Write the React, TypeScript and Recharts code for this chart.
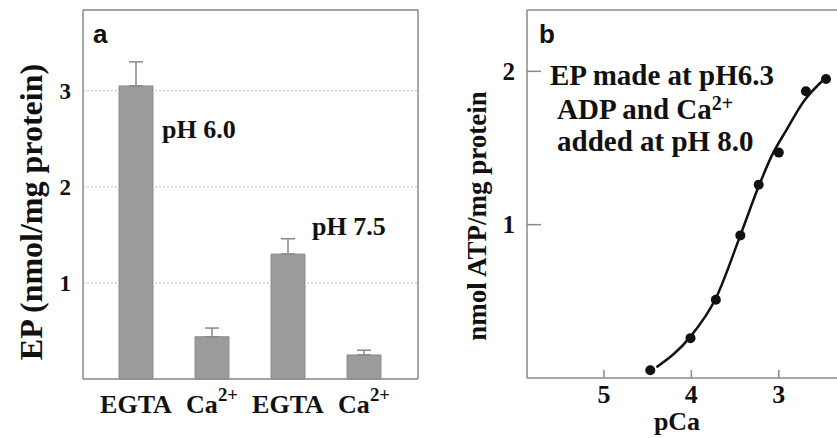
import { Bar, BarChart, CartesianGrid, ComposedChart, ErrorBar, Line, Scatter, XAxis, YAxis } from 'recharts';

// panel a: EP levels
const categories = ['EGTA', 'Ca2+', 'EGTA', 'Ca2+'];
const epValues = [3.05, 0.44, 1.3, 0.25];
const epErrors = [0.25, 0.09, 0.16, 0.05];
const epTicks = [1, 2, 3];

// panel b: ATP formed vs pCa
const pcaPoints = [4.47, 4.01, 3.72, 3.44, 3.23, 3.0, 2.69, 2.46];
const atpPoints = [0.05, 0.26, 0.51, 0.93, 1.26, 1.47, 1.87, 1.95];
const fitPca = [4.4, 4.01, 3.72, 3.44, 3.23, 3.08, 2.91, 2.72, 2.46];
const fitAtp = [0.07, 0.27, 0.52, 0.93, 1.25, 1.45, 1.62, 1.8, 1.96];
const atpTicks = [1, 2];
const pcaTicks = [5, 4, 3];

const SERIF = '"Liberation Serif", "DejaVu Serif", "Times New Roman", serif';
const SANS = '"Liberation Sans", Arial, sans-serif';
const AXIS = '#8a8a8a';
const INK = '#111';

const barData = categories.map((name, i) => ({
  id: i,
  name,
  ep: epValues[i],
  err: [0, epErrors[i]],
}));
const pointData = pcaPoints.map((pca, i) => ({ pca, atp: atpPoints[i] }));
const fitData = fitPca.map((pca, i) => ({ pca, atp: fitAtp[i] }));

function CaLabel({ x, y, size }: { x: number; y: number; size: number }) {
  return (
    <text x={x} y={y} textAnchor="middle" fontFamily={SERIF} fontWeight="bold" fontSize={size} fill={INK}>
      Ca
      <tspan fontSize={size * 0.72} dy={-12}>2+</tspan>
    </text>
  );
}

function CategoryTick({ x, y, payload }: any) {
  const name = categories[payload.value];
  const ty = y + 34;
  if (name === 'Ca2+') return <CaLabel x={x} y={ty} size={26} />;
  return (
    <text x={x} y={ty} textAnchor="middle" fontFamily={SERIF} fontWeight="bold" fontSize={26} fill={INK}>
      {name}
    </text>
  );
}

function AtpTick({ x, y, payload }: any) {
  return (
    <g>
      <line x1={x} x2={x + 14} y1={y} y2={y} stroke={AXIS} strokeWidth={1.5} />
      <text x={x - 12} y={y} dy="0.35em" textAnchor="end" fontFamily={SERIF} fontWeight="bold" fontSize={25} fill={INK}>
        {payload.value}
      </text>
    </g>
  );
}

function PcaTick({ x, y, payload }: any) {
  return (
    <g>
      <line x1={x} x2={x} y1={y} y2={y - 8} stroke={AXIS} strokeWidth={1.5} />
      <text x={x} y={y + 25} textAnchor="middle" fontFamily={SERIF} fontWeight="bold" fontSize={26} fill={INK}>
        {payload.value}
      </text>
    </g>
  );
}

function Dot(props: any) {
  return <circle cx={props.cx} cy={props.cy} r={5} fill={INK} />;
}

const boxLine = { stroke: AXIS, strokeWidth: 1.5 };
const topEdge = ({ offset }: any) => [offset.top];
const rightEdge = ({ offset }: any) => [offset.left + offset.width];

export default function App() {
  return (
    <div style={{ position: 'absolute', left: 0, top: 0, width: 837, height: 438, overflow: 'hidden', background: '#fff' }}>
      <div style={{ position: 'absolute', left: 0, top: 0 }}>
        <BarChart width={420} height={438} data={barData} margin={{ top: 10, right: 2, bottom: 0, left: 0 }}>
          <CartesianGrid vertical={false} strokeDasharray="2 2" stroke="#bdbdbd" />
          <CartesianGrid
            horizontalCoordinatesGenerator={topEdge}
            verticalCoordinatesGenerator={rightEdge}
            stroke={AXIS}
            strokeWidth={1.5}
          />
          <XAxis
            dataKey="id"
            type="category"
            height={59}
            padding={{ left: 15, right: 16 }}
            tickLine={false}
            tickSize={0}
            tickMargin={0}
            axisLine={boxLine}
            tick={<CategoryTick />}
          />
          <YAxis
            width={83}
            domain={[0, 3.84]}
            ticks={epTicks}
            tickLine={false}
            axisLine={boxLine}
            tickMargin={6}
            tick={{ fill: INK, fontSize: 23, fontWeight: 'bold', fontFamily: SERIF }}
          />
          <Bar dataKey="ep" barSize={34} fill="#9c9c9c" stroke="#8c8c8c" strokeWidth={1} isAnimationActive={false}>
            <ErrorBar dataKey="err" direction="y" width={7} stroke="#888" strokeWidth={1.5} />
          </Bar>
        </BarChart>
      </div>

      <div style={{ position: 'absolute', left: 420, top: 0 }}>
        <ComposedChart width={440} height={438} data={fitData} margin={{ top: 10, right: 20, bottom: 0, left: 0 }}>
          <XAxis
            dataKey="pca"
            type="number"
            domain={[2.3, 5.88]}
            reversed
            ticks={pcaTicks}
            height={60}
            tickLine={false}
            tickSize={0}
            tickMargin={0}
            axisLine={boxLine}
            tick={<PcaTick />}
          />
          <YAxis
            dataKey="atp"
            type="number"
            width={107}
            domain={[0, 2.4]}
            ticks={atpTicks}
            tickLine={false}
            tickSize={0}
            tickMargin={0}
            axisLine={boxLine}
            tick={<AtpTick />}
          />
          <Line dataKey="atp" type="monotone" stroke={INK} strokeWidth={2.5} dot={false} isAnimationActive={false} />
          <Scatter data={pointData} dataKey="atp" shape={<Dot />} isAnimationActive={false} />
        </ComposedChart>
      </div>

      <svg width={837} height={438} style={{ position: 'absolute', left: 0, top: 0, pointerEvents: 'none' }}>
        {/* top frame edge of panel b */}
        <line x1={527} x2={837} y1={10} y2={10} stroke={AXIS} strokeWidth={1.5} />
        <g fontFamily={SERIF} fontWeight="bold" fill={INK}>
          <text x={93} y={43} fontFamily={SANS} fontSize={26}>a</text>
          <text x={162} y={138} fontSize={26}>pH 6.0</text>
          <text x={312} y={235} fontSize={26}>pH 7.5</text>
          <text x={31} y={212} fontSize={32} textAnchor="middle" dominantBaseline="central" transform="rotate(-90 31 212)">
            EP (nmol/mg protein)
          </text>

          <text x={539} y={43} fontFamily={SANS} fontSize={26}>b</text>
          <text x={550} y={85} fontSize={29}>EP made at pH6.3</text>
          <text x={557} y={119} fontSize={29}>
            ADP and Ca<tspan fontSize={20} dy={-9}>2+</tspan>
          </text>
          <text x={557} y={151} fontSize={29}>added at pH 8.0</text>
          <text x={477} y={216} fontSize={27} textAnchor="middle" dominantBaseline="central" transform="rotate(-90 477 216)">
            nmol ATP/mg protein
          </text>
          <text x={677} y={430} fontSize={26} textAnchor="middle">pCa</text>
        </g>
      </svg>
    </div>
  );
}
